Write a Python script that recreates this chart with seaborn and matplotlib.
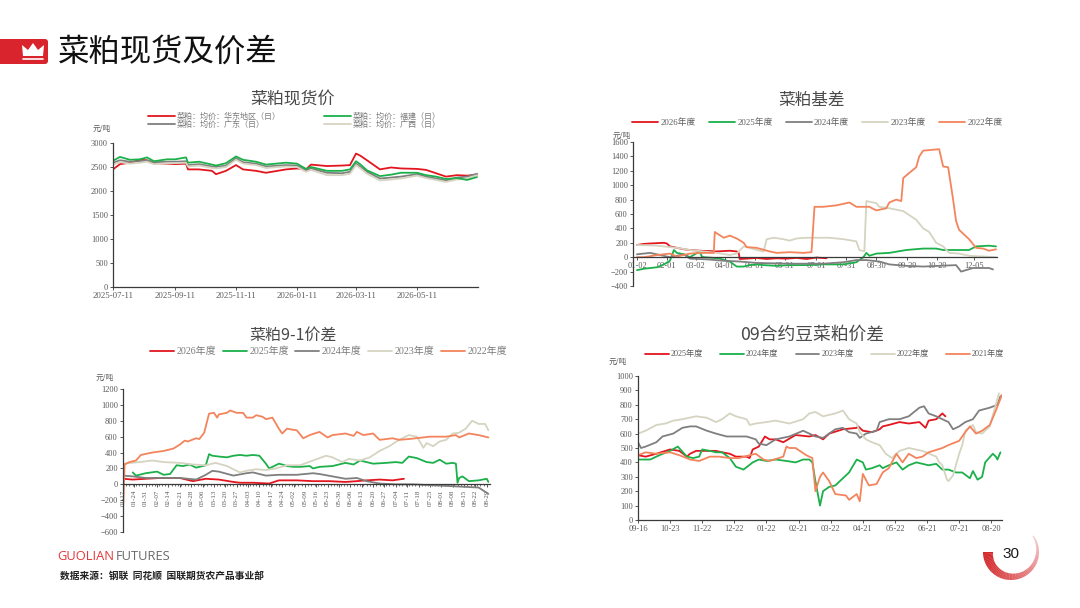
import matplotlib
matplotlib.use('Agg')
import matplotlib.pyplot as plt
import matplotlib.dates as mdates
from matplotlib.colors import to_rgb
from matplotlib.patches import FancyBboxPatch, Polygon, Wedge
import numpy as np
import pandas as pd
import seaborn as sns

# ---------------- data ----------------
# 菜粕现货价 (元/吨)
spot_dates = ['2025-07-11', '2025-07-18', '2025-07-28', '2025-08-07', '2025-08-14', '2025-08-21',
              '2025-09-03', '2025-09-11', '2025-09-22', '2025-09-24', '2025-10-05', '2025-10-18',
              '2025-10-22', '2025-11-01', '2025-11-11', '2025-11-18', '2025-12-01', '2025-12-11',
              '2025-12-31', '2026-01-11', '2026-01-20', '2026-01-25', '2026-02-10', '2026-02-25',
              '2026-03-05', '2026-03-11', '2026-03-15', '2026-03-22', '2026-04-04', '2026-04-15',
              '2026-04-25', '2026-05-11', '2026-05-20', '2026-05-30', '2026-06-09', '2026-06-20',
              '2026-06-30', '2026-07-10']
spot_huadong = [2450, 2560, 2590, 2650, 2640, 2580, 2570, 2560, 2570, 2450, 2450, 2420, 2350, 2420,
                2540, 2450, 2420, 2380, 2450, 2470, 2450, 2550, 2520, 2530, 2540, 2780, 2740, 2640,
                2450, 2490, 2470, 2460, 2440, 2370, 2300, 2330, 2320, 2340]
spot_fujian = [2630, 2710, 2650, 2660, 2700, 2620, 2660, 2660, 2700, 2590, 2610, 2550, 2530, 2580,
               2720, 2650, 2610, 2550, 2590, 2570, 2460, 2500, 2420, 2420, 2450, 2620, 2560, 2430,
               2310, 2340, 2380, 2380, 2330, 2300, 2250, 2270, 2230, 2290]
spot_guangdong = [2590, 2640, 2610, 2620, 2640, 2600, 2610, 2610, 2620, 2540, 2560, 2510, 2500, 2530,
                  2680, 2600, 2570, 2510, 2540, 2530, 2430, 2470, 2380, 2370, 2400, 2570, 2510, 2400,
                  2260, 2280, 2300, 2350, 2300, 2260, 2220, 2280, 2300, 2360]
spot_guangxi = [2550, 2600, 2570, 2590, 2610, 2560, 2580, 2580, 2590, 2510, 2530, 2480, 2470, 2500,
                2650, 2570, 2540, 2480, 2510, 2500, 2400, 2440, 2330, 2330, 2360, 2540, 2480, 2360,
                2220, 2240, 2260, 2320, 2270, 2230, 2190, 2240, 2260, 2330]
spot_ticks = ['2025-07-11', '2025-09-11', '2025-11-11', '2026-01-11', '2026-03-11', '2026-05-11']

# 菜粕基差 (day of year)
basis_ticks = [1, 31, 60, 89, 119, 149, 181, 211, 241, 272, 302, 339]
basis_labels = ['01-02', '02-01', '03-02', '04-01', '05-01', '05-31', '07-01', '07-31',
                '08-30', '09-29', '10-29', '12-05']
b26_x = [1, 8, 14, 21, 28, 31, 34, 38, 41, 48, 54, 64, 74, 81, 94, 101, 103, 104, 111, 121, 131,
         141, 151, 161, 171, 181, 191]
b26_y = [170, 185, 190, 195, 200, 190, 150, 140, 130, 110, 100, 90, 85, 80, 90, 80, 60, -25, -20,
         -10, -25, -15, -20, -10, -25, -5, -15]
b25_x = [1, 8, 21, 28, 34, 38, 41, 48, 54, 64, 66, 68, 78, 84, 94, 101, 108, 114, 121, 128, 141,
         154, 171, 188, 208, 221, 228, 231, 234, 241, 254, 271, 288, 301, 308, 321, 334, 341, 354, 361]
b25_y = [-180, -160, -140, -100, -50, 100, 60, 40, 0, 80, 10, 0, -10, -20, -60, -130, -130, -110,
         -100, -110, -120, -110, -110, -100, -100, -70, 0, 60, 20, 50, 60, 100, 120, 120, 100, 100,
         100, 150, 160, 150]
b24_x = [1, 14, 21, 34, 48, 54, 71, 88, 104, 121, 154, 188, 208, 221, 231, 244, 254, 271, 288, 304,
         321, 326, 338, 354, 358]
b24_y = [40, 60, 40, 0, 40, -20, -30, -50, -60, -80, -90, -90, -70, -40, -40, -60, -100, -120, -130,
         -120, -110, -200, -150, -150, -170]
b23_x = [1, 21, 41, 54, 68, 81, 94, 101, 108, 114, 121, 128, 131, 138, 148, 154, 161, 171, 188, 194,
         208, 221, 224, 229, 231, 241, 244, 254, 268, 281, 288, 294, 301, 308, 314, 324, 334, 348, 361]
b23_y = [170, 160, 130, 100, 80, 60, 30, 50, 150, 130, 100, 80, 250, 270, 250, 230, 260, 270, 270,
         270, 250, 220, 100, 80, 780, 750, 700, 680, 640, 520, 400, 350, 200, 150, 60, 50, 20, 10, 0]
b22_x = [1, 8, 21, 34, 41, 54, 64, 78, 79, 88, 94, 101, 108, 111, 121, 134, 141, 154, 168, 176, 179,
         188, 201, 214, 221, 234, 241, 248, 251, 254, 261, 266, 268, 274, 281, 284, 288, 304, 308,
         313, 318, 321, 324, 334, 341, 348, 354, 361]
b22_y = [0, 0, 30, 50, 10, 50, 60, 60, 350, 270, 300, 260, 200, 140, 130, 80, 60, 70, 60, 70, 700,
         700, 720, 760, 700, 700, 650, 670, 680, 760, 800, 780, 1100, 1170, 1250, 1400, 1480, 1500,
         1260, 1250, 800, 500, 380, 250, 130, 120, 90, 110]

# 菜粕9-1价差 (trading-day index from 01-17)
s91_labels = ['01-17', '01-24', '01-31', '02-07', '02-14', '02-21', '02-28', '03-06', '03-13',
              '03-20', '03-27', '04-03', '04-10', '04-17', '04-24', '05-02', '05-09', '05-16',
              '05-23', '05-30', '06-06', '06-13', '06-20', '06-27', '07-04', '07-11', '07-18',
              '07-25', '08-01', '08-08', '08-15', '08-22', '08-29']
s91_ticks = list(range(0, 225, 7))
s26_x = [0, 6, 14, 23, 35, 43, 51, 59, 68, 72, 80, 90, 96, 107, 117, 127, 137, 144, 150, 158, 166, 173]
s26_y = [70, 60, 70, 80, 80, 40, 70, 60, 30, 20, 20, 10, 50, 50, 40, 40, 30, 40, 50, 60, 50, 70]
s25_x = [6, 8, 14, 21, 25, 29, 33, 37, 41, 45, 51, 53, 55, 59, 64, 68, 72, 76, 80, 84, 88, 90, 92,
         96, 98, 101, 105, 109, 115, 117, 121, 129, 137, 142, 146, 150, 154, 162, 168, 172, 176,
         181, 187, 191, 195, 199, 203, 205, 206, 207, 209, 213, 219, 224, 225]
s25_y = [150, 110, 140, 160, 120, 130, 240, 230, 250, 210, 240, 380, 360, 350, 340, 360, 370, 360,
         370, 360, 260, 200, 220, 260, 250, 230, 220, 220, 230, 200, 220, 230, 270, 250, 300, 280,
         260, 270, 280, 270, 350, 330, 280, 270, 310, 260, 270, 260, 20, 80, 100, 40, 50, 70, 30]
s24_x = [0, 6, 14, 25, 35, 45, 51, 55, 59, 68, 76, 80, 88, 96, 107, 117, 121, 129, 137, 144, 150,
         158, 168, 178, 189, 199, 209, 219, 225]
s24_y = [110, 100, 80, 80, 80, 60, 120, 170, 160, 110, 140, 150, 110, 120, 120, 140, 130, 100, 70,
         80, 40, 10, 0, 0, -10, -20, -30, -40, -120]
s23_x = [0, 10, 18, 25, 35, 43, 51, 57, 64, 72, 76, 82, 88, 94, 101, 109, 117, 125, 129, 135, 139,
         146, 152, 158, 164, 170, 176, 181, 185, 187, 191, 195, 199, 203, 207, 211, 215, 219, 223, 225]
s23_y = [260, 280, 300, 280, 270, 250, 240, 270, 230, 150, 170, 190, 180, 200, 240, 240, 300, 360,
         340, 280, 320, 300, 340, 420, 480, 560, 620, 600, 460, 520, 480, 540, 560, 640, 650, 700,
         800, 760, 760, 680]
s22_x = [0, 1, 4, 8, 11, 18, 25, 31, 35, 38, 40, 45, 47, 50, 53, 56, 58, 59, 64, 66, 70, 74, 76,
         80, 82, 86, 88, 92, 96, 98, 101, 107, 111, 115, 121, 126, 129, 137, 142, 144, 148, 154,
         158, 166, 170, 176, 189, 199, 205, 207, 213, 219, 223, 225]
s22_y = [-350, 250, 280, 300, 370, 400, 420, 450, 500, 550, 540, 580, 570, 650, 890, 900, 840, 880,
         900, 930, 900, 900, 840, 840, 870, 850, 820, 840, 700, 640, 700, 680, 580, 620, 660, 590,
         620, 640, 610, 660, 620, 640, 560, 580, 560, 570, 600, 600, 620, 590, 640, 620, 600, 590]

# 09合约豆菜粕价差 (trading-day index from 09-16)
sm_labels = ['09-16', '10-23', '11-22', '12-22', '01-22', '02-21', '03-22', '04-21', '05-22',
             '06-21', '07-21', '08-20']
sm_ticks = list(range(0, 232, 21))
m25_x = [0, 5, 12, 21, 27, 32, 34, 38, 45, 51, 55, 60, 64, 71, 73, 75, 79, 83, 86, 90, 95, 103,
         112, 116, 121, 125, 134, 143, 144, 147, 153, 158, 160, 164, 171, 177, 184, 188, 190, 195,
         199, 201]
m25_y = [450, 440, 460, 490, 480, 440, 460, 480, 480, 480, 470, 460, 440, 440, 430, 490, 510, 580,
         560, 560, 540, 590, 580, 590, 560, 600, 630, 640, 650, 620, 610, 630, 650, 660, 680, 670,
         680, 640, 690, 700, 740, 720]
m24_x = [0, 8, 14, 21, 26, 32, 36, 40, 42, 47, 51, 55, 60, 64, 69, 75, 79, 84, 90, 97, 103, 108,
         112, 114, 116, 119, 121, 125, 129, 134, 138, 143, 147, 149, 153, 158, 160, 164, 169, 173,
         177, 182, 186, 190, 195, 199, 203, 208, 212, 217, 219, 222, 225, 227, 232, 234, 235, 237]
m24_y = [420, 420, 450, 480, 510, 440, 430, 440, 490, 480, 470, 470, 430, 370, 350, 400, 420, 410,
         420, 410, 400, 420, 420, 400, 270, 100, 200, 230, 240, 290, 330, 420, 400, 350, 360, 380,
         360, 380, 400, 350, 380, 400, 390, 380, 390, 350, 350, 330, 330, 290, 340, 280, 300, 400,
         460, 440, 420, 470]
m23_x = [0, 2, 5, 12, 16, 23, 29, 34, 38, 45, 51, 58, 64, 71, 77, 79, 84, 90, 99, 108, 116, 121,
         125, 129, 134, 138, 143, 145, 149, 156, 158, 164, 171, 177, 184, 187, 190, 195, 199, 203,
         206, 210, 214, 219, 223, 230, 235, 237]
m23_y = [540, 500, 510, 540, 580, 600, 640, 650, 650, 620, 600, 580, 580, 580, 560, 530, 520, 560,
         580, 620, 580, 570, 600, 630, 640, 610, 600, 570, 600, 620, 680, 700, 700, 720, 780, 790,
         740, 720, 700, 680, 630, 650, 680, 700, 760, 780, 800, 860]
m22_x = [0, 5, 12, 18, 23, 29, 38, 45, 51, 55, 60, 64, 71, 73, 77, 84, 90, 99, 108, 112, 116, 121,
         129, 134, 138, 143, 145, 149, 153, 158, 162, 166, 171, 177, 186, 195, 197, 199, 202, 203,
         206, 210, 212, 214, 219, 221, 225, 230, 236]
m22_y = [600, 620, 660, 670, 690, 700, 720, 710, 680, 700, 740, 720, 700, 660, 670, 680, 690, 670,
         700, 740, 750, 720, 740, 760, 700, 670, 610, 560, 540, 520, 460, 430, 480, 500, 480, 440,
         400, 380, 280, 270, 310, 460, 520, 620, 660, 610, 600, 650, 880]
m21_x = [0, 5, 12, 21, 27, 34, 40, 47, 53, 60, 66, 73, 77, 82, 86, 95, 97, 99, 103, 110, 114, 116,
         119, 121, 125, 129, 136, 138, 143, 145, 147, 151, 156, 160, 164, 169, 173, 177, 182, 186,
         190, 199, 203, 210, 214, 217, 221, 225, 230, 234, 238]
m21_y = [450, 470, 460, 470, 450, 420, 410, 440, 440, 430, 430, 450, 460, 420, 410, 440, 510, 500,
         500, 450, 430, 200, 300, 330, 270, 180, 170, 140, 180, 130, 320, 240, 250, 330, 360, 460,
         400, 460, 430, 440, 470, 500, 520, 550, 610, 650, 600, 620, 660, 760, 870]

# ---------------- style ----------------
RED = '#e3151e'
GREEN = '#1bb04a'
GRAY = '#7f7f7f'
BEIGE = '#d5d4c1'
ORANGE = '#f3845c'
TXT = '#595959'

sns.set_theme(style='white')
plt.rcParams['font.family'] = ['Liberation Serif', 'Noto Sans CJK SC', 'DejaVu Sans']
CJK = ['Noto Sans CJK SC', 'DejaVu Sans']

fig = plt.figure(figsize=(10.8, 6.08), dpi=100)
fig.patch.set_facecolor('white')

# background layer in pixel coordinates
bg = fig.add_axes([0, 0, 1, 1], zorder=-1)
bg.set_xlim(0, 1080)
bg.set_ylim(608, 0)
bg.axis('off')


def px_axes(x0, y_top, x1, y_bot):
    return fig.add_axes([x0 / 1080, 1 - y_bot / 608, (x1 - x0) / 1080, (y_bot - y_top) / 608])


def style(ax):
    sns.despine(ax=ax)
    for s in ['left', 'bottom']:
        ax.spines[s].set_color('#3a3a3a')
        ax.spines[s].set_linewidth(0.9)
    ax.tick_params(labelsize=6, labelcolor=TXT, color='#3a3a3a', length=2.2, width=0.6, pad=1.5,
                   left=True, bottom=True)
    ax.set_xlabel('')
    ax.set_ylabel('')
    ax.set_facecolor('none')


def line(ax, x, y, color, label, lw=1.3):
    sns.lineplot(x=x, y=y, ax=ax, color=color, label=label, linewidth=lw, estimator=None)


def legend(ax, x, y, fs, hl, colsp, handles=None, labels=None, ncol=5, lsp=0.05, col=TXT):
    if handles is None:
        handles, labels = ax.get_legend_handles_labels()
    ax.legend(handles, labels, loc='upper left', bbox_to_anchor=(x / 1080, 1 - y / 608),
              bbox_transform=fig.transFigure, ncol=ncol, frameon=False, fontsize=fs,
              handlelength=hl, handletextpad=0.25, columnspacing=colsp, labelspacing=lsp,
              borderpad=0, borderaxespad=0, labelcolor=col)


def title(x, y, s, fs=12):
    bg.text(x, y, s, ha='center', va='center', fontsize=fs, color='#4a4a4a', family=CJK)


def unit(x, y):
    bg.text(x, y, '元/吨', ha='center', va='center', fontsize=5.5, color=TXT, family=CJK)


# ---------------- chart 1: 菜粕现货价 ----------------
ax1 = px_axes(113, 143, 478, 287)
d = pd.to_datetime(spot_dates)
line(ax1, d, spot_huadong, RED, '菜粕：均价：华东地区（日）')
line(ax1, d, spot_guangdong, GRAY, '菜粕：均价：广东（日）')
line(ax1, d, spot_guangxi, BEIGE, '菜粕：均价：广西（日）')
line(ax1, d, spot_fujian, GREEN, '菜粕：均价：福建（日）')
ax1.set_ylim(0, 3000)
ax1.set_yticks(range(0, 3001, 500))
ax1.set_xlim(pd.Timestamp('2025-07-11'), pd.Timestamp('2026-07-11'))
ax1.set_xticks(pd.to_datetime(spot_ticks))
ax1.xaxis.set_major_formatter(mdates.DateFormatter('%Y-%m-%d'))
style(ax1)
ax1.tick_params(axis='x', labelsize=6.3)
h, l = ax1.get_legend_handles_labels()
order = [0, 1, 3, 2]
legend(ax1, 148, 112.5, 5.8, 3.3, 5.4, [h[i] for i in order], [l[i] for i in order], ncol=2,
       lsp=0.0, col='#7a7a7a')
title(293, 100, '菜粕现货价', 12.2)
unit(102, 129)

# ---------------- chart 2: 菜粕基差 ----------------
ax2 = px_axes(633, 142, 997, 286)
line(ax2, b26_x, b26_y, RED, '2026年度')
line(ax2, b25_x, b25_y, GREEN, '2025年度')
line(ax2, b24_x, b24_y, GRAY, '2024年度')
line(ax2, b23_x, b23_y, BEIGE, '2023年度')
line(ax2, b22_x, b22_y, ORANGE, '2022年度')
ax2.spines['bottom'].set_position(('data', 0))
ax2.set_ylim(-400, 1600)
ax2.set_yticks(range(-400, 1601, 200))
ax2.set_xlim(-3, 362)
ax2.set_xticks(basis_ticks)
ax2.set_xticklabels(basis_labels)
style(ax2)
legend(ax2, 632, 118, 6.3, 3.0, 1.5)
title(812, 100, '菜粕基差', 12)
unit(622, 136)

# ---------------- chart 3: 菜粕9-1价差 ----------------
ax3 = px_axes(123, 389, 490, 532)
line(ax3, s26_x, s26_y, RED, '2026年度')
line(ax3, s25_x, s25_y, GREEN, '2025年度')
line(ax3, s24_x, s24_y, GRAY, '2024年度')
line(ax3, s23_x, s23_y, BEIGE, '2023年度')
line(ax3, s22_x, s22_y, ORANGE, '2022年度')
ax3.spines['bottom'].set_position(('data', 0))
ax3.set_ylim(-600, 1200)
ax3.set_yticks(range(-600, 1201, 200))
ax3.set_xlim(0, 226)
ax3.set_xticks(s91_ticks)
ax3.set_xticklabels(s91_labels, rotation=90)
ax3.set_xticks(range(0, 226, 2), minor=True)
style(ax3)
ax3.tick_params(axis='x', which='minor', length=1.5, width=0.5, color='#3a3a3a', bottom=True)
ax3.tick_params(axis='x', labelsize=5, labelrotation=90)
legend(ax3, 150, 347, 7.2, 2.4, 0.65, col='#7a7a7a')
title(293, 335, '菜粕9-1价差', 11.5)
unit(105, 378)

# ---------------- chart 4: 09合约豆菜粕价差 ----------------
ax4 = px_axes(638, 376, 1002, 520)
line(ax4, m25_x, m25_y, RED, '2025年度')
line(ax4, m24_x, m24_y, GREEN, '2024年度')
line(ax4, m23_x, m23_y, GRAY, '2023年度')
line(ax4, m22_x, m22_y, BEIGE, '2022年度')
line(ax4, m21_x, m21_y, ORANGE, '2021年度')
ax4.set_ylim(0, 1000)
ax4.set_yticks(range(0, 1001, 100))
ax4.set_xlim(0, 238)
ax4.set_xticks(sm_ticks)
ax4.set_xticklabels(sm_labels)
style(ax4)
legend(ax4, 645, 351, 5.9, 2.9, 2.1)
title(812, 335, '09合约豆菜粕价差', 12.8)
unit(618, 362)

# ---------------- page decoration ----------------
bg.add_patch(FancyBboxPatch((-10, 39), 58, 25, boxstyle='round,pad=0,rounding_size=3',
                            facecolor='#d9232d', edgecolor='none'))
bg.add_patch(Polygon([(23, 56), (22, 45), (28, 50), (33, 43), (38, 50), (44, 45), (43, 56)],
                     closed=True, facecolor='white', edgecolor='none'))
bg.plot([23, 43], [59, 59], color='white', lw=1.2)
bg.text(58, 52, '菜粕现货及价差', ha='left', va='center', fontsize=22.6, color='#111111', family=CJK)

bg.text(57, 557, 'GUOLIAN', ha='left', va='center', fontsize=9.3, color='#e0383b',
        family=['Open Sans', 'DejaVu Sans'])
bg.text(116, 557, 'FUTURES', ha='left', va='center', fontsize=9.3, color='#6a6a6a',
        family=['Open Sans', 'DejaVu Sans'])
bg.text(60, 576, '数据来源：钢联  同花顺  国联期货农产品事业部', ha='left', va='center', fontsize=7,
        fontweight='bold', color='#222222', family=CJK)

# page-number ring, fading from red to pink
c0 = np.array(to_rgb('#d3282b'))
c1 = np.array(to_rgb('#f6d3d3'))
n = 60
for i in range(n):
    t = i / (n - 1)
    a = 180 - t * 212
    bg.add_patch(Wedge((1011, 552), 28, a - 4.2, a, width=10 - 8.5 * t,
                       facecolor=tuple(c0 + (c1 - c0) * t ** 1.3), edgecolor='none'))
bg.text(1011, 554, '30', ha='center', va='center', fontsize=11, color='#1a1a1a',
        family=['Liberation Sans', 'DejaVu Sans'])

fig.savefig('out.png', dpi=100)
